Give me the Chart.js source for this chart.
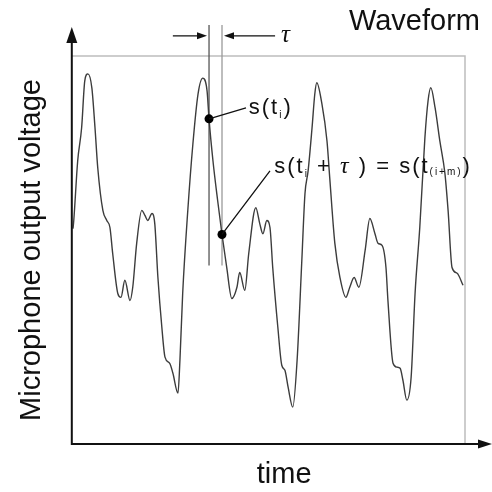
<!DOCTYPE html>
<html>
<head>
<meta charset="utf-8">
<script src="https://cdn.jsdelivr.net/npm/chart.js@4.4.1/dist/chart.umd.min.js"></script>
<style>
  html, body { margin:0; padding:0; background:#fff; }
  #wrap { width:492px; height:492px; }
</style>
</head>
<body>
<div id="wrap"><canvas id="waveChart" width="492" height="492"></canvas></div>
<script>
// waveform samples (time / voltage in arbitrary units 0..100)
const timeValues = [
  0.3, 0.5, 1.5, 2.5, 3.3, 4.1, 5.1, 5.9, 6.6, 7.9, 8.9, 9.7, 10.4, 11.7, 12.5, 13.5, 14.8, 15.5, 16.5, 17.8,
  18.6, 19.3, 20.4, 21.1, 21.9, 22.9, 23.7, 24.9, 25.7, 27.0, 27.5, 28.2, 29.5, 30.8, 32.1, 33.3, 34.4, 34.9,
  35.9, 37.1, 38.2, 39.4, 40.7, 42.0, 42.7, 44.0, 45.0, 46.8, 47.8, 48.6, 49.6, 50.4, 51.1, 52.4, 53.4, 54.2,
  55.0, 56.2, 57.3, 58.5, 59.3, 60.1, 61.1, 61.8, 62.3, 63.6, 64.9, 65.6, 66.9, 68.2, 69.7, 70.7, 71.8, 73.0,
  74.6, 75.8, 77.1, 77.9, 78.9, 79.9, 80.4, 81.7, 82.7, 83.5, 84.2, 85.2, 86.3, 87.3, 88.5, 89.8, 90.6, 91.3,
  92.4, 93.6, 94.9, 95.7, 96.7, 98.0, 99.5
];
const voltageValues = [
  55.5, 57.6, 73.0, 81.5, 93.6, 95.4, 91.8, 81.5, 71.2, 60.2, 57.6, 55.8, 49.1, 38.8, 37.8, 42.2, 37.0, 40.4, 51.7, 60.2,
  58.9, 57.6, 59.4, 56.8, 42.9, 30.1, 22.4, 20.8, 18.3, 13.1, 21.6, 38.8, 60.2, 77.4, 90.2, 94.3, 91.0, 83.8,
  73.0, 62.7, 54.0, 45.5, 37.5, 40.4, 44.2, 39.6, 49.1, 60.9, 56.8, 54.2, 57.6, 55.8, 45.5, 30.1, 20.3, 19.0,
  14.7, 9.5, 21.6, 47.3, 64.5, 70.4, 81.5, 90.2, 93.1, 87.7, 78.1, 68.6, 51.7, 42.9, 37.8, 40.4, 42.9, 40.4,
  49.9, 58.1, 54.2, 51.7, 51.2, 45.5, 37.0, 20.8, 19.8, 19.5, 16.5, 11.3, 17.2, 38.8, 55.8, 78.9, 88.4, 91.8,
  86.6, 78.1, 69.7, 60.2, 45.5, 44.0, 40.9
];
// s(t_i) and s(t_i + tau)
const markerTimes = [34.9, 38.2];
const markerVoltages = [83.8, 54.0];

const FONT = '"Liberation Sans", Arial, sans-serif';

function drawArrowHead(ctx, x, y, dir, len, half){
  // dir: 'right' | 'left' | 'up'
  ctx.beginPath();
  if(dir === 'right'){ ctx.moveTo(x, y); ctx.lineTo(x-len, y-half); ctx.lineTo(x-len, y+half); }
  if(dir === 'left'){ ctx.moveTo(x, y); ctx.lineTo(x+len, y-half); ctx.lineTo(x+len, y+half); }
  if(dir === 'up'){ ctx.moveTo(x, y); ctx.lineTo(x-half, y+len); ctx.lineTo(x+half, y+len); }
  ctx.closePath();
  ctx.fill();
}

// draws a run of text pieces (some as subscripts) starting at x, middle at y
function drawRich(ctx, x, y, parts){
  ctx.textBaseline = 'middle';
  ctx.textAlign = 'left';
  parts.forEach(p=>{
    ctx.font = p.font;
    ctx.fillText(p.t, x, y + (p.dy||0));
    x += ctx.measureText(p.t).width + (p.gap||0);
  });
}

const waveformDecor = {
  id: 'waveformDecor',
  beforeDatasetsDraw(chart){
    const {ctx, chartArea:a, scales:{x, y}} = chart;
    ctx.save();
    // gray frame (top + right)
    ctx.strokeStyle = '#bdbdbd';
    ctx.lineWidth = 1.5;
    ctx.beginPath();
    ctx.moveTo(a.left, a.top); ctx.lineTo(a.right, a.top); ctx.lineTo(a.right, a.bottom);
    ctx.stroke();
    // the two tau lines
    const top = y.getPixelForValue(108), bot = y.getPixelForValue(46);
    ctx.lineWidth = 1.3;
    ctx.strokeStyle = '#555';
    ctx.beginPath();
    ctx.moveTo(x.getPixelForValue(markerTimes[0]), top);
    ctx.lineTo(x.getPixelForValue(markerTimes[0]), bot);
    ctx.stroke();
    ctx.strokeStyle = '#9a9a9a';
    ctx.beginPath();
    ctx.moveTo(x.getPixelForValue(markerTimes[1]), top);
    ctx.lineTo(x.getPixelForValue(markerTimes[1]), bot);
    ctx.stroke();
    ctx.restore();
  },
  afterDatasetsDraw(chart){
    const {ctx, chartArea:a, scales:{x, y}} = chart;
    const px = v => x.getPixelForValue(v), py = v => y.getPixelForValue(v);
    ctx.save();
    ctx.fillStyle = '#111';
    ctx.strokeStyle = '#111';

    // axes with arrows
    ctx.lineWidth = 2;
    ctx.beginPath();
    ctx.moveTo(a.left, a.top - 18); ctx.lineTo(a.left, a.bottom); ctx.lineTo(a.right + 14, a.bottom);
    ctx.stroke();
    drawArrowHead(ctx, a.left, a.top - 29, 'up', 16, 5.5);
    drawArrowHead(ctx, a.right + 27, a.bottom, 'right', 14, 4.5);

    // tau arrows
    const ay = py(105.2);
    const l0 = px(markerTimes[0]), l1 = px(markerTimes[1]);
    ctx.lineWidth = 1.3;
    ctx.beginPath();
    ctx.moveTo(px(25.7), ay); ctx.lineTo(l0 - 6, ay);
    ctx.moveTo(l1 + 8, ay); ctx.lineTo(px(51.7), ay);
    ctx.stroke();
    drawArrowHead(ctx, l0 - 2, ay, 'right', 10, 3.5);
    drawArrowHead(ctx, l1 + 2, ay, 'left', 10, 3.5);
    ctx.font = 'italic 25px "Liberation Serif", serif';
    ctx.textAlign = 'left';
    ctx.textBaseline = 'middle';
    ctx.fillText('τ', px(53.2), ay);

    // leader lines to the two labels
    ctx.lineWidth = 1.3;
    ctx.beginPath();
    ctx.moveTo(px(markerTimes[0]), py(markerVoltages[0])); ctx.lineTo(px(44.3), py(86.6));
    ctx.moveTo(px(markerTimes[1]), py(markerVoltages[1])); ctx.lineTo(px(50.4), py(70.4));
    ctx.stroke();

    const main = '22px ' + FONT, sub = '10px ' + FONT;
    ctx.letterSpacing = '2px';
    drawRich(ctx, px(45.0), py(86.6), [
      {t:'s(t', font:main}, {t:'i', font:sub, dy:7}, {t:')', font:main}
    ]);
    drawRich(ctx, px(51.5), py(71.4), [
      {t:'s(t', font:main}, {t:'i', font:sub, dy:7},
      {t:' + ', font:main}, {t:'τ', font:'italic 24px "Liberation Serif", serif'},
      {t:' ) = s(t', font:main}, {t:'(i+m)', font:sub, dy:5}, {t:')', font:main}
    ]);
    ctx.letterSpacing = '0px';

    // title and x label
    ctx.font = '29px ' + FONT;
    ctx.textBaseline = 'alphabetic';
    ctx.textAlign = 'right';
    ctx.fillText('Waveform', chart.width - 12, 30);
    ctx.textAlign = 'center';
    ctx.fillText('time', px(54), a.bottom + 39);
    ctx.restore();
  }
};

const ctx = document.getElementById('waveChart').getContext('2d');
new Chart(ctx, {
  type: 'line',
  data: {
    datasets: [
      {
        label: 's(t)',
        type: 'scatter',
        data: markerTimes.map((t,i)=>({x:t, y:markerVoltages[i]})),
        pointRadius: 4.5,
        pointBackgroundColor: '#000',
        pointBorderWidth: 0,
        order: 0
      },
      {
        label: 'Waveform',
        data: timeValues.map((t,i)=>({x:t, y:voltageValues[i]})),
        borderColor: '#3c3c3c',
        borderWidth: 1.4,
        pointRadius: 0,
        fill: false,
        cubicInterpolationMode: 'monotone',
        order: 1
      }
    ]
  },
  options: {
    responsive: false,
    animation: false,
    layout: { padding: { left: 0, top: 56, right: 27, bottom: 48 } },
    plugins: { legend: { display: false }, tooltip: { enabled: false } },
    scales: {
      x: {
        type: 'linear', min: 0, max: 100,
        grid: { display: false, drawTicks: false },
        border: { display: false },
        ticks: { display: false }
      },
      y: {
        type: 'linear', min: 0, max: 100,
        grid: { display: false, drawTicks: false },
        border: { display: false },
        ticks: { display: false },
        title: {
          display: true,
          text: 'Microphone output voltage',
          color: '#111',
          font: { family: FONT, size: 29 },
          padding: { top: 15, bottom: 22 }
        }
      }
    }
  },
  plugins: [waveformDecor]
});
</script>
</body>
</html>
